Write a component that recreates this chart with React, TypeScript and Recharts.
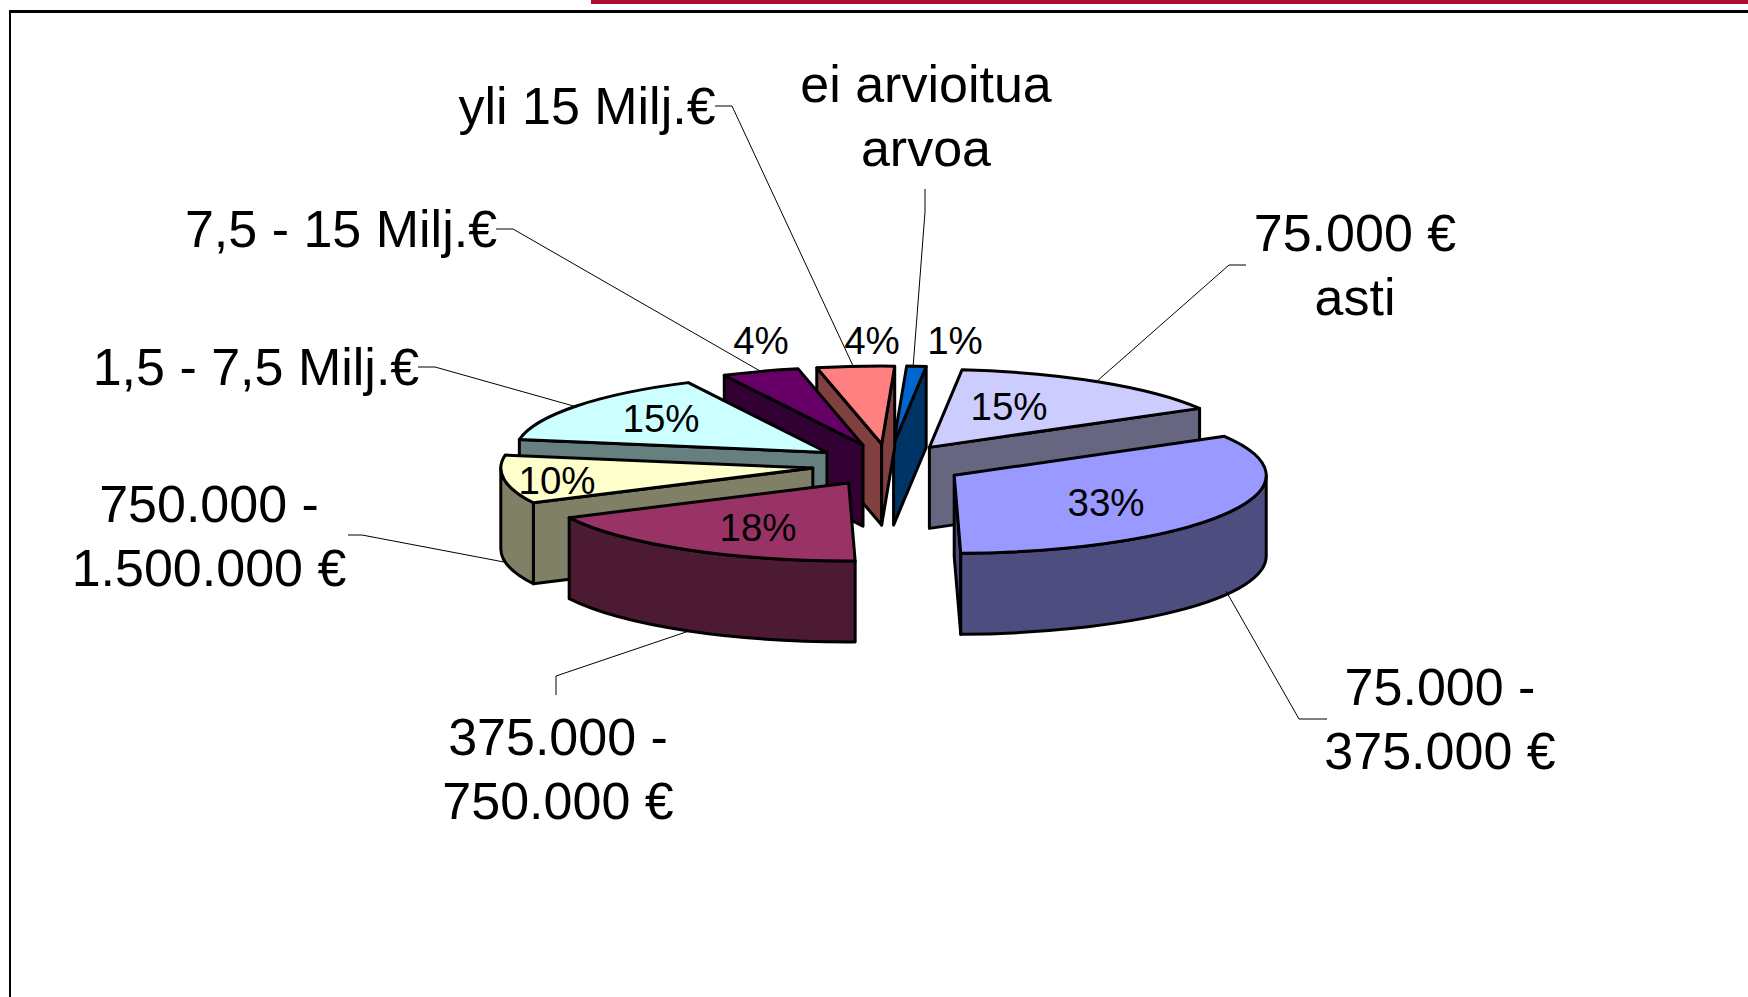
import { PieChart, Pie } from 'recharts';

const CATEGORIES = [
  '75.000 € asti',
  '75.000 - 375.000 €',
  '375.000 - 750.000 €',
  '750.000 - 1.500.000 €',
  '1,5 - 7,5 Milj.€',
  '7,5 - 15 Milj.€',
  'yli 15 Milj.€',
  'ei arvioitua arvoa',
];
const SHARES = [15, 33, 18, 10, 15, 4, 4, 1];
const LABEL_LINES = [
  ['75.000 €', 'asti'],
  ['75.000 -', '375.000 €'],
  ['375.000 -', '750.000 €'],
  ['750.000 -', '1.500.000 €'],
  ['1,5 - 7,5 Milj.€'],
  ['7,5 - 15 Milj.€'],
  ['yli 15 Milj.€'],
  ['ei arvioitua', 'arvoa'],
];

const TOP_COLORS = ['#CCCCFF', '#9999FF', '#993366', '#FFFFCC', '#CCFFFF', '#660066', '#FF8080', '#0066CC'];
const WALL_COLORS = ['#666680', '#4D4D80', '#4D1A33', '#808066', '#668080', '#330033', '#804040', '#003366'];

// back to front, so nearer slices cover the walls behind them
const PAINT_ORDER = [0, 7, 6, 5, 4, 3, 2, 1];

// label placement, in page pixels: [centre x, first baseline]
const NAME_POS = [
  [1355, 251], [1440, 705], [558, 755], [209, 522],
  [256, 385], [341, 247], [587, 124], [926, 102],
];
const PCT_POS = [
  [1009, 420], [1106, 516], [758, 541], [557, 494],
  [661, 432], [761, 354], [872, 354], [955, 354],
];
const LEADERS = [
  '1246,265 1229,265 1096,382',
  '1327,719 1299,719 1226,591',
  '556,695 556,676 689,631',
  '348,535 362,535 504,562',
  '418,367 435,367 577,407',
  '496,229 513,229 760,371',
  '715,106 732,106 854,368',
  '925,189 925,212 913,368',
];

const WIDTH = 1748;
const HEIGHT = 997;
const CX = 888;
const CY = 465;
const RADIUS = 312;
const SQUASH = 0.25;
const DEPTH = 81;
const EXPLODE_X = 76;
const EXPLODE_Y = 21;
const FONT = '"Liberation Sans", Arial, sans-serif';

const rad = (deg: number) => (deg * Math.PI) / 180;

function Slice3D(props: any) {
  const { cx, cy, outerRadius, startAngle, endAngle, index } = props;
  const mid = (startAngle + endAngle) / 2;
  const ox = cx + EXPLODE_X * Math.cos(rad(mid));
  const oy = cy - EXPLODE_Y * Math.sin(rad(mid));
  const rx = outerRadius;
  const ry = outerRadius * SQUASH;
  const pt = (a: number, drop = 0) => [ox + rx * Math.cos(rad(a)), oy - ry * Math.sin(rad(a)) + drop];
  const arc = (a: number, b: number, sweep: number, drop = 0) => {
    const [x, y] = pt(b, drop);
    return `A${rx} ${ry} 0 ${Math.abs(a - b) > 180 ? 1 : 0} ${sweep} ${x} ${y}`;
  };
  const face = (a: number) => {
    const [x, y] = pt(a);
    return `M${ox} ${oy}L${x} ${y}L${x} ${y + DEPTH}L${ox} ${oy + DEPTH}Z`;
  };

  // outer wall: only the part of the rim on the near side of the ellipse
  const walls: string[] = [];
  for (const [lo, hi] of [[-180, 0], [-540, -360]]) {
    const a = Math.min(startAngle, hi);
    const b = Math.max(endAngle, lo);
    if (a > b) {
      const [x0, y0] = pt(a);
      walls.push(`M${x0} ${y0}${arc(a, b, 1)}L${pt(b)[0]} ${pt(b)[1] + DEPTH}${arc(b, a, 0, DEPTH)}Z`);
    }
  }

  const faces: string[] = [];
  if (Math.cos(rad(startAngle)) < 0) faces.push(face(startAngle));
  if (Math.sin(rad(endAngle - 90)) < 0) faces.push(face(endAngle));

  const [sx, sy] = pt(startAngle);
  const top = `M${ox} ${oy}L${sx} ${sy}${arc(startAngle, endAngle, 1)}Z`;
  const line = { stroke: '#000', strokeWidth: 3, strokeLinejoin: 'round' as const };

  return (
    <g key={index}>
      {faces.map(d => <path key={d} d={d} fill={WALL_COLORS[index]} {...line} />)}
      {walls.map(d => <path key={d} d={d} fill={WALL_COLORS[index]} {...line} />)}
      <path d={top} fill={TOP_COLORS[index]} {...line} />
    </g>
  );
}

function SliceLabel(props: any) {
  const { index, value } = props;
  const [nameX, nameY] = NAME_POS[index];
  const [pctX, pctY] = PCT_POS[index];
  return (
    <g key={index} fontFamily={FONT} fill="#000" textAnchor="middle">
      <polyline points={LEADERS[index]} fill="none" stroke="#000" strokeWidth={1} />
      <text x={pctX} y={pctY} fontSize={38.5}>{value}%</text>
      {LABEL_LINES[index].map((t, i) => (
        <text key={t} x={nameX} y={nameY + i * 63.5} fontSize={52}>{t}</text>
      ))}
    </g>
  );
}

export default function App() {
  const data = CATEGORIES.map((name, i) => ({ name, value: SHARES[i] }));
  const pieProps = {
    data,
    dataKey: 'value',
    nameKey: 'name',
    cx: CX,
    cy: CY,
    outerRadius: RADIUS,
    startAngle: 84,
    endAngle: -276,
    stroke: 'none',
    isAnimationActive: false,
  };

  return (
    <div style={{ position: 'absolute', left: 0, top: 0, width: WIDTH, height: HEIGHT, background: '#fff', overflow: 'hidden' }}>
      <div style={{ position: 'absolute', left: 591, right: 0, top: 0, height: 4, background: '#B00A35' }} />
      <div style={{ position: 'absolute', left: 9, top: 10, width: WIDTH, height: HEIGHT, borderLeft: '2px solid #000', borderTop: '3px solid #000' }} />
      <PieChart width={WIDTH} height={HEIGHT} margin={{ top: 0, right: 0, bottom: 0, left: 0 }}>
        {PAINT_ORDER.map(i => (
          <Pie
            key={i}
            {...pieProps}
            labelLine={false}
            shape={(p: any) => (p.name === CATEGORIES[i] ? <Slice3D {...p} index={i} /> : <g />)}
          />
        ))}
        <Pie {...pieProps} shape={() => <g />} labelLine={false} label={(p: any) => <SliceLabel {...p} />} />
      </PieChart>
    </div>
  );
}
